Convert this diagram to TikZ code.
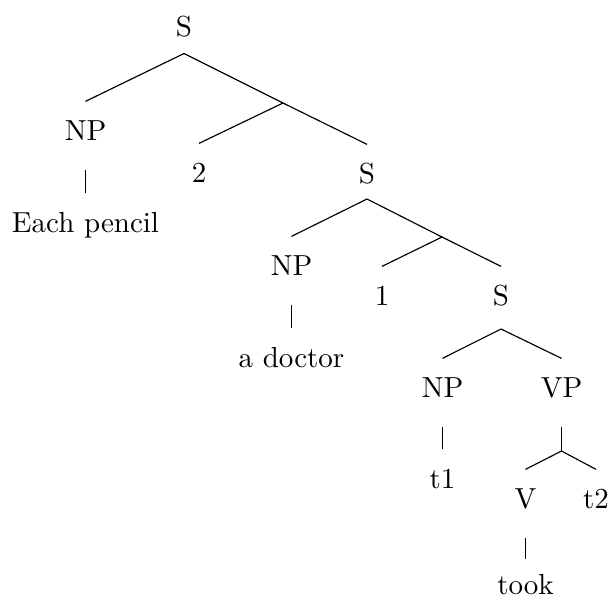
\documentclass[tikz,border=0pt]{standalone}
\begin{document}
\begin{tikzpicture}[x=0.3448pt,y=-0.3448pt,
  lbl/.style={anchor=base,inner xsep=0pt,inner ysep=6.3pt,text height=6.83pt,text depth=0pt},
  edge/.style={draw=black,line width=0.4pt},
  unary/.style={edge,shorten <=3.8pt}]
\useasboundingbox (0,0) rectangle (612,599);

% labelled nodes (x centre, baseline)
\node[lbl] (s1)    at (184,36)    {S};
\node[lbl] (np1)   at (85.5,140)  {NP};
\node[lbl] (each)  at (85.5,232)  {Each pencil};
\node[lbl] (two)   at (199,182)   {2};
\node[lbl] (s2)    at (367,183)   {S};
\node[lbl] (np2)   at (291.5,275) {NP};
\node[lbl] (doc)   at (291.5,367) {a doctor};
\node[lbl] (one)   at (382,305)   {1};
\node[lbl] (s3)    at (501,305)   {S};
\node[lbl] (np3)   at (442.5,397) {NP};
\node[lbl] (vp)    at (561.5,397) {VP};
\node[lbl] (t1)    at (442.5,488) {t1};
\node[lbl] (v)     at (525.5,508) {V};
\node[lbl] (t2)    at (596,508)   {t2};
\node[lbl] (took)  at (525.5,594) {took};

% branching points and unlabelled nodes
\coordinate (a1) at (184,53.5);
\coordinate (b1) at (283,103);
\coordinate (a2) at (367,199);
\coordinate (b2) at (442,237);
\coordinate (a3) at (501,329);
\coordinate (b3) at (561.5,451);

% edges
\draw[edge] (a1) -- (np1.north);
\draw[edge] (a1) -- (b1);
\draw[edge] (b1) -- (two.north);
\draw[edge] (b1) -- (s2.north);
\draw[unary] (np1.south) -- (each.north);

\draw[edge] (a2) -- (np2.north);
\draw[edge] (a2) -- (b2);
\draw[edge] (b2) -- (one.north);
\draw[edge] (b2) -- (s3.north);
\draw[unary] (np2.south) -- (doc.north);

\draw[edge] (a3) -- (np3.north);
\draw[edge] (a3) -- (vp.north);
\draw[unary] (np3.south) -- (t1.north);
\draw[unary] (vp.south) -- (b3);
\draw[edge] (b3) -- (v.north);
\draw[edge] (b3) -- (t2.north);
\draw[unary] (v.south) -- ([yshift=-1.3pt]took.north);
\end{tikzpicture}
\end{document}
